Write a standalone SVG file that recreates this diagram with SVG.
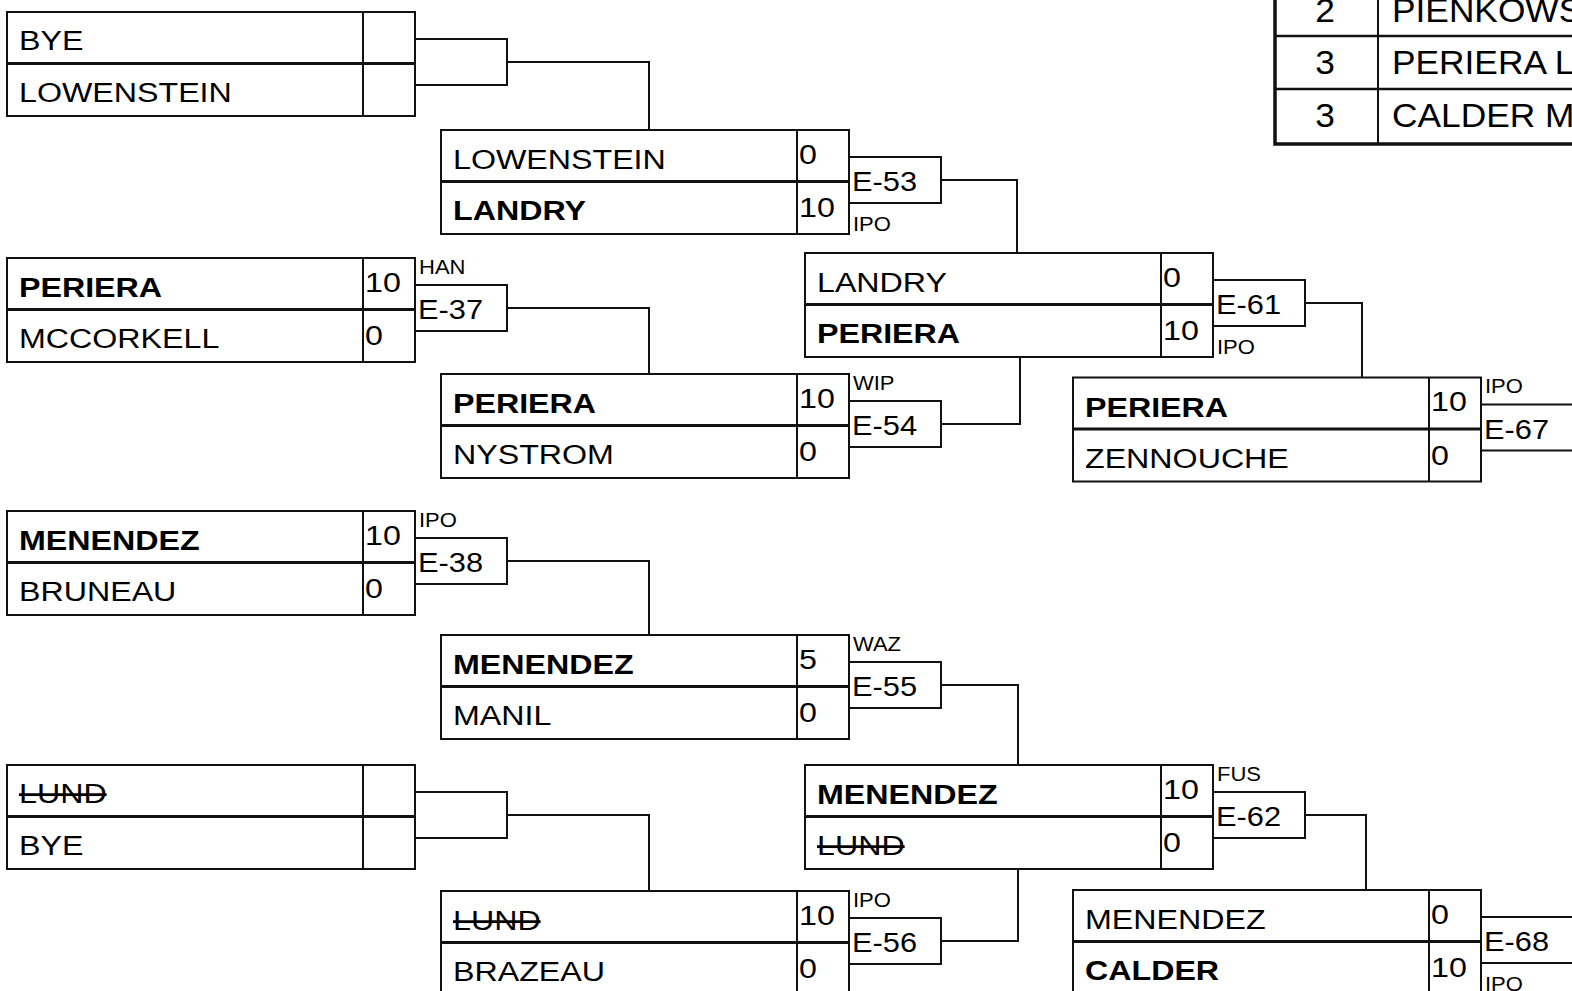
<svg xmlns="http://www.w3.org/2000/svg" width="1572" height="991" viewBox="0 0 1572 991">
<style>
  .bg { fill: #ffffff; }
  .box { fill: #ffffff; stroke: #111; stroke-width: 2; }
  .div { stroke: #111; stroke-width: 3; }
  .col { stroke: #111; stroke-width: 2; }
  .eb { fill: #ffffff; stroke: #111; stroke-width: 2; }
  .con { fill: none; stroke: #111; stroke-width: 2; }
  text { font-family: "Liberation Sans", Arial, sans-serif; fill: #000; }
  .n { font-size: 28px; }
  .b { font-weight: bold; }
  .s { text-decoration: line-through; }
  .sm { font-size: 20px; }
  .t { font-size: 33px; }
</style>
<rect class="bg" x="0" y="0" width="1572" height="991"/>

<g id="connectors">
  <polyline class="con" points="507,62 649,62 649,130"/>
  <polyline class="con" points="507,308 649,308 649,374"/>
  <polyline class="con" points="507,561 649,561 649,635"/>
  <polyline class="con" points="507,815 649,815 649,891"/>
  <polyline class="con" points="941,180 1017,180 1017,253"/>
  <polyline class="con" points="941,424 1020,424 1020,357"/>
  <polyline class="con" points="941,685 1018,685 1018,765"/>
  <polyline class="con" points="941,941 1018,941 1018,869"/>
  <polyline class="con" points="1305,303 1362,303 1362,377.5"/>
  <polyline class="con" points="1305,815 1366,815 1366,890"/>
</g>

<g id="table">
  <rect x="1275" y="-20" width="330" height="164" fill="#fff" stroke="#111" stroke-width="3.5"/>
  <line x1="1378" y1="-20" x2="1378" y2="144" stroke="#111" stroke-width="2"/>
  <line x1="1275" y1="36" x2="1572" y2="36" stroke="#111" stroke-width="2.5"/>
  <line x1="1275" y1="89" x2="1572" y2="89" stroke="#111" stroke-width="2.5"/>
  <text class="t" text-anchor="middle" transform="translate(1325,21.5) scale(1.07,1)">2</text>
  <text class="t" transform="translate(1392,21.5) scale(1.07,1)">PIENKOWS</text>
  <text class="t" text-anchor="middle" transform="translate(1325,74) scale(1.07,1)">3</text>
  <text class="t" transform="translate(1392,74) scale(1.07,1)">PERIERA L</text>
  <text class="t" text-anchor="middle" transform="translate(1325,127) scale(1.07,1)">3</text>
  <text class="t" transform="translate(1392,127) scale(1.07,1)">CALDER M</text>
</g>

<!-- Round 1 -->
<g id="r1-m1">
  <rect class="box" x="7" y="12" width="408" height="104"/>
  <line class="div" x1="7" y1="63.5" x2="415" y2="63.5"/>
  <line class="col" x1="363" y1="12" x2="363" y2="116"/>
  <rect class="eb" x="415" y="39" width="92" height="46"/>
  <text class="n" transform="translate(19,50) scale(1.15,1)">BYE</text>
  <text class="n" transform="translate(19,102) scale(1.15,1)">LOWENSTEIN</text>
</g>
<g id="r1-m2">
  <rect class="box" x="7" y="258" width="408" height="104"/>
  <line class="div" x1="7" y1="309.5" x2="415" y2="309.5"/>
  <line class="col" x1="363" y1="258" x2="363" y2="362"/>
  <rect class="eb" x="415" y="285" width="92" height="46"/>
  <text class="n b" transform="translate(19,297) scale(1.15,1)">PERIERA</text>
  <text class="n" transform="translate(19,348) scale(1.15,1)">MCCORKELL</text>
  <text class="n" transform="translate(365,291.5) scale(1.15,1)">10</text>
  <text class="n" transform="translate(365,345) scale(1.15,1)">0</text>
  <text class="n" transform="translate(418,319) scale(1.1,1)">E-37</text>
  <text class="sm" transform="translate(419,273.5) scale(1.1,1)">HAN</text>
</g>
<g id="r1-m3">
  <rect class="box" x="7" y="511" width="408" height="104"/>
  <line class="div" x1="7" y1="562.5" x2="415" y2="562.5"/>
  <line class="col" x1="363" y1="511" x2="363" y2="615"/>
  <rect class="eb" x="415" y="538" width="92" height="46"/>
  <text class="n b" transform="translate(19,550) scale(1.15,1)">MENENDEZ</text>
  <text class="n" transform="translate(19,601) scale(1.15,1)">BRUNEAU</text>
  <text class="n" transform="translate(365,544.5) scale(1.15,1)">10</text>
  <text class="n" transform="translate(365,598) scale(1.15,1)">0</text>
  <text class="n" transform="translate(418,572) scale(1.1,1)">E-38</text>
  <text class="sm" transform="translate(419,526.5) scale(1.1,1)">IPO</text>
</g>
<g id="r1-m4">
  <rect class="box" x="7" y="765" width="408" height="104"/>
  <line class="div" x1="7" y1="816.5" x2="415" y2="816.5"/>
  <line class="col" x1="363" y1="765" x2="363" y2="869"/>
  <rect class="eb" x="415" y="792" width="92" height="46"/>
  <text class="n s" transform="translate(19,803) scale(1.15,1)">LUND</text>
  <text class="n" transform="translate(19,855) scale(1.15,1)">BYE</text>
</g>

<!-- Round 2 -->
<g id="r2-m1">
  <rect class="box" x="441" y="130" width="408" height="104"/>
  <line class="div" x1="441" y1="181.5" x2="849" y2="181.5"/>
  <line class="col" x1="797" y1="130" x2="797" y2="234"/>
  <rect class="eb" x="849" y="157" width="92" height="46"/>
  <text class="n" transform="translate(453,169) scale(1.15,1)">LOWENSTEIN</text>
  <text class="n b" transform="translate(453,220) scale(1.15,1)">LANDRY</text>
  <text class="n" transform="translate(799,163.5) scale(1.15,1)">0</text>
  <text class="n" transform="translate(799,217) scale(1.15,1)">10</text>
  <text class="n" transform="translate(852,191) scale(1.1,1)">E-53</text>
  <text class="sm" transform="translate(853,230.5) scale(1.1,1)">IPO</text>
</g>
<g id="r2-m2">
  <rect class="box" x="441" y="374" width="408" height="104"/>
  <line class="div" x1="441" y1="425.5" x2="849" y2="425.5"/>
  <line class="col" x1="797" y1="374" x2="797" y2="478"/>
  <rect class="eb" x="849" y="401" width="92" height="46"/>
  <text class="n b" transform="translate(453,413) scale(1.15,1)">PERIERA</text>
  <text class="n" transform="translate(453,464) scale(1.15,1)">NYSTROM</text>
  <text class="n" transform="translate(799,407.5) scale(1.15,1)">10</text>
  <text class="n" transform="translate(799,461) scale(1.15,1)">0</text>
  <text class="n" transform="translate(852,435) scale(1.1,1)">E-54</text>
  <text class="sm" transform="translate(853,389.5) scale(1.1,1)">WIP</text>
</g>
<g id="r2-m3">
  <rect class="box" x="441" y="635" width="408" height="104"/>
  <line class="div" x1="441" y1="686.5" x2="849" y2="686.5"/>
  <line class="col" x1="797" y1="635" x2="797" y2="739"/>
  <rect class="eb" x="849" y="662" width="92" height="46"/>
  <text class="n b" transform="translate(453,674) scale(1.15,1)">MENENDEZ</text>
  <text class="n" transform="translate(453,725) scale(1.15,1)">MANIL</text>
  <text class="n" transform="translate(799,668.5) scale(1.15,1)">5</text>
  <text class="n" transform="translate(799,722) scale(1.15,1)">0</text>
  <text class="n" transform="translate(852,696) scale(1.1,1)">E-55</text>
  <text class="sm" transform="translate(853,650.5) scale(1.1,1)">WAZ</text>
</g>
<g id="r2-m4">
  <rect class="box" x="441" y="891" width="408" height="104"/>
  <line class="div" x1="441" y1="942.5" x2="849" y2="942.5"/>
  <line class="col" x1="797" y1="891" x2="797" y2="995"/>
  <rect class="eb" x="849" y="918" width="92" height="46"/>
  <text class="n s" transform="translate(453,930) scale(1.15,1)">LUND</text>
  <text class="n" transform="translate(453,981) scale(1.15,1)">BRAZEAU</text>
  <text class="n" transform="translate(799,924.5) scale(1.15,1)">10</text>
  <text class="n" transform="translate(799,978) scale(1.15,1)">0</text>
  <text class="n" transform="translate(852,952) scale(1.1,1)">E-56</text>
  <text class="sm" transform="translate(853,906.5) scale(1.1,1)">IPO</text>
</g>

<!-- Round 3 -->
<g id="r3-m1">
  <rect class="box" x="805" y="253" width="408" height="104"/>
  <line class="div" x1="805" y1="304.5" x2="1213" y2="304.5"/>
  <line class="col" x1="1161" y1="253" x2="1161" y2="357"/>
  <rect class="eb" x="1213" y="280" width="92" height="46"/>
  <text class="n" transform="translate(817,292) scale(1.15,1)">LANDRY</text>
  <text class="n b" transform="translate(817,343) scale(1.15,1)">PERIERA</text>
  <text class="n" transform="translate(1163,286.5) scale(1.15,1)">0</text>
  <text class="n" transform="translate(1163,340) scale(1.15,1)">10</text>
  <text class="n" transform="translate(1216,314) scale(1.1,1)">E-61</text>
  <text class="sm" transform="translate(1217,353.5) scale(1.1,1)">IPO</text>
</g>
<g id="r3-m2">
  <rect class="box" x="805" y="765" width="408" height="104"/>
  <line class="div" x1="805" y1="816.5" x2="1213" y2="816.5"/>
  <line class="col" x1="1161" y1="765" x2="1161" y2="869"/>
  <rect class="eb" x="1213" y="792" width="92" height="46"/>
  <text class="n b" transform="translate(817,804) scale(1.15,1)">MENENDEZ</text>
  <text class="n s" transform="translate(817,855) scale(1.15,1)">LUND</text>
  <text class="n" transform="translate(1163,798.5) scale(1.15,1)">10</text>
  <text class="n" transform="translate(1163,852) scale(1.15,1)">0</text>
  <text class="n" transform="translate(1216,826) scale(1.1,1)">E-62</text>
  <text class="sm" transform="translate(1217,780.5) scale(1.1,1)">FUS</text>
</g>

<!-- Round 4 -->
<g id="r4-m1">
  <rect class="box" x="1073" y="377.5" width="408" height="104"/>
  <line class="div" x1="1073" y1="429" x2="1481" y2="429"/>
  <line class="col" x1="1429" y1="377.5" x2="1429" y2="481.5"/>
  <rect class="eb" x="1481" y="404.5" width="140" height="46"/>
  <text class="n b" transform="translate(1085,416.5) scale(1.15,1)">PERIERA</text>
  <text class="n" transform="translate(1085,467.5) scale(1.15,1)">ZENNOUCHE</text>
  <text class="n" transform="translate(1431,411) scale(1.15,1)">10</text>
  <text class="n" transform="translate(1431,464.5) scale(1.15,1)">0</text>
  <text class="n" transform="translate(1484,438.5) scale(1.1,1)">E-67</text>
  <text class="sm" transform="translate(1485,393) scale(1.1,1)">IPO</text>
</g>
<g id="r4-m2">
  <rect class="box" x="1073" y="890" width="408" height="104"/>
  <line class="div" x1="1073" y1="941.5" x2="1481" y2="941.5"/>
  <line class="col" x1="1429" y1="890" x2="1429" y2="994"/>
  <rect class="eb" x="1481" y="917" width="140" height="46"/>
  <text class="n" transform="translate(1085,929) scale(1.15,1)">MENENDEZ</text>
  <text class="n b" transform="translate(1085,980) scale(1.15,1)">CALDER</text>
  <text class="n" transform="translate(1431,923.5) scale(1.15,1)">0</text>
  <text class="n" transform="translate(1431,977) scale(1.15,1)">10</text>
  <text class="n" transform="translate(1484,951) scale(1.1,1)">E-68</text>
  <text class="sm" transform="translate(1485,990.5) scale(1.1,1)">IPO</text>
</g>
</svg>
